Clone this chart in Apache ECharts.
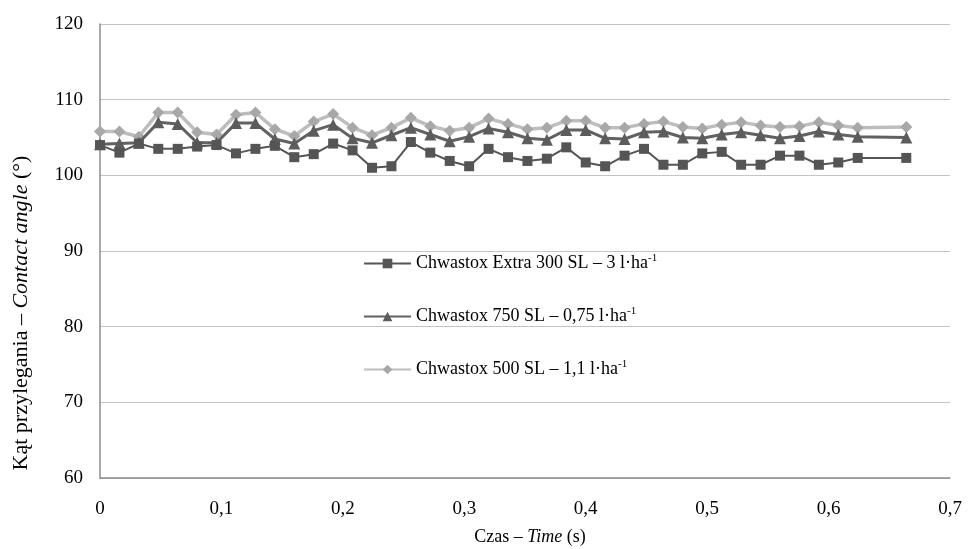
<!DOCTYPE html>
<html>
<head>
<meta charset="utf-8">
<script src="https://cdn.jsdelivr.net/npm/echarts@6/dist/echarts.min.js"></script>
<style>
  html, body { margin: 0; padding: 0; background: #fff; }
  #chart { width: 970px; height: 549px; }
</style>
</head>
<body>
<div id="chart"></div>
<script>
// time (s) of each measurement
const TIMES = [0, 0.016, 0.032, 0.048, 0.064, 0.08, 0.096, 0.112, 0.128, 0.144,
  0.16, 0.176, 0.192, 0.208, 0.224, 0.24, 0.256, 0.272, 0.288, 0.304,
  0.32, 0.336, 0.352, 0.368, 0.384, 0.4, 0.416, 0.432, 0.448, 0.464,
  0.48, 0.496, 0.512, 0.528, 0.544, 0.56, 0.576, 0.592, 0.608, 0.624, 0.664];

const SERIES_NAMES = [
  'Chwastox Extra 300 SL – 3 l·ha-1',
  'Chwastox 750 SL – 0,75 l·ha-1',
  'Chwastox 500 SL – 1,1 l·ha-1'
];

// contact angle (°)
const EXTRA_300 = [104.0, 103.0, 104.2, 103.5, 103.5, 103.8, 104.0, 102.9, 103.5, 103.9,
  102.4, 102.8, 104.2, 103.3, 101.0, 101.2, 104.4, 103.0, 101.9, 101.2,
  103.5, 102.4, 101.9, 102.2, 103.7, 101.7, 101.2, 102.6, 103.5, 101.4,
  101.4, 102.9, 103.1, 101.4, 101.4, 102.6, 102.6, 101.4, 101.7, 102.3, 102.3];

const SL_750 = [104.1, 104.2, 104.3, 107.0, 106.8, 104.3, 104.3, 106.9, 106.9, 104.8,
  104.2, 105.9, 106.7, 104.9, 104.3, 105.3, 106.3, 105.4, 104.5, 105.1,
  106.2, 105.7, 104.9, 104.7, 106.0, 106.0, 104.9, 104.8, 105.7, 105.8,
  105.0, 104.9, 105.4, 105.7, 105.3, 104.9, 105.2, 105.8, 105.4, 105.1, 105.0];

const SL_500 = [105.8, 105.8, 105.1, 108.3, 108.3, 105.7, 105.4, 108.0, 108.3, 106.1,
  105.2, 107.1, 108.1, 106.3, 105.3, 106.3, 107.6, 106.5, 105.9, 106.3,
  107.5, 106.8, 106.1, 106.3, 107.2, 107.2, 106.3, 106.3, 106.8, 107.1,
  106.4, 106.2, 106.7, 107.0, 106.6, 106.4, 106.5, 107.0, 106.6, 106.3, 106.4];

const X_TICKS = [0, 0.1, 0.2, 0.3, 0.4, 0.5, 0.6, 0.7];

const FONT = '"Liberation Serif", "Times New Roman", serif';

function pairs(ys) {
  return TIMES.map((t, i) => [t, ys[i]]);
}

const chart = echarts.init(document.getElementById('chart'), null, { renderer: 'canvas' });

const option = {
  backgroundColor: '#fff',
  animation: false,
  textStyle: { fontFamily: FONT, color: '#000' },
  grid: { left: 100, right: 20, top: 24, bottom: 71, containLabel: false, outerBoundsMode: 'none' },
  legend: {
    orient: 'vertical',
    left: 358,
    top: 248,
    padding: 5,
    itemGap: 32,
    itemWidth: 47,
    itemHeight: 12,
    data: SERIES_NAMES,
    formatter: (name) => name.replace(/-1$/, '{sup|-1}'),
    textStyle: {
      fontFamily: FONT, fontSize: 18, color: '#000', lineHeight: 21,
      rich: {
        sup: { fontFamily: FONT, fontSize: 11, verticalAlign: 'top', lineHeight: 21, padding: [0, 0, 10, 0] }
      }
    }
  },
  xAxis: {
    type: 'value',
    min: 0, max: 0.7, interval: 0.1,
    name: 'Czas – {i|Time} (s)',
    nameLocation: 'middle',
    nameGap: 50,
    nameTextStyle: {
      fontFamily: FONT, fontSize: 18, color: '#000',
      padding: [0, 0, 0, 10],
      rich: { i: { fontFamily: FONT, fontSize: 18, fontStyle: 'italic' } }
    },
    axisLine: { onZero: false, lineStyle: { color: '#8c8c8c', width: 1.5 } },
    axisTick: { show: false },
    axisLabel: {
      margin: 22, fontFamily: FONT, fontSize: 19, color: '#000',
      formatter: (v) => {
        const t = X_TICKS.find(k => Math.abs(k - v) < 1e-9);
        return String(t === undefined ? v : t).replace('.', ',');
      }
    },
    splitLine: { show: false }
  },
  yAxis: {
    type: 'value',
    min: 60, max: 120, interval: 10,
    name: 'Kąt przylegania – {i|Contact angle} (°)',
    nameLocation: 'middle',
    nameRotate: 90,
    nameGap: 68,
    nameTextStyle: {
      fontFamily: FONT, fontSize: 22, color: '#000',
      padding: [0, 124, 0, 0],
      rich: { i: { fontFamily: FONT, fontSize: 22, fontStyle: 'italic' } }
    },
    axisLine: { show: true, lineStyle: { color: '#8c8c8c', width: 1.5 } },
    axisTick: { show: false },
    axisLabel: { margin: 17, fontFamily: FONT, fontSize: 19, color: '#000' },
    splitLine: { show: true, lineStyle: { color: '#c4c4c4', width: 1 } }
  },
  series: [
    {
      name: SERIES_NAMES[0],
      type: 'line',
      symbol: 'rect',
      symbolSize: 10,
      showAllSymbol: true,
      lineStyle: { color: '#555555', width: 2 },
      itemStyle: { color: '#555555' },
      z: 4,
      data: pairs(EXTRA_300)
    },
    {
      name: SERIES_NAMES[1],
      type: 'line',
      symbol: 'triangle',
      symbolSize: 12,
      showAllSymbol: true,
      lineStyle: { color: '#616161', width: 3 },
      itemStyle: { color: '#5c5c5c' },
      z: 3,
      data: pairs(SL_750)
    },
    {
      name: SERIES_NAMES[2],
      type: 'line',
      symbol: 'diamond',
      symbolSize: 12,
      showAllSymbol: true,
      lineStyle: { color: '#bdbdbd', width: 3.5 },
      itemStyle: { color: '#a8a8a8' },
      z: 2,
      data: pairs(SL_500)
    }
  ]
};

chart.setOption(option);
</script>
</body>
</html>
